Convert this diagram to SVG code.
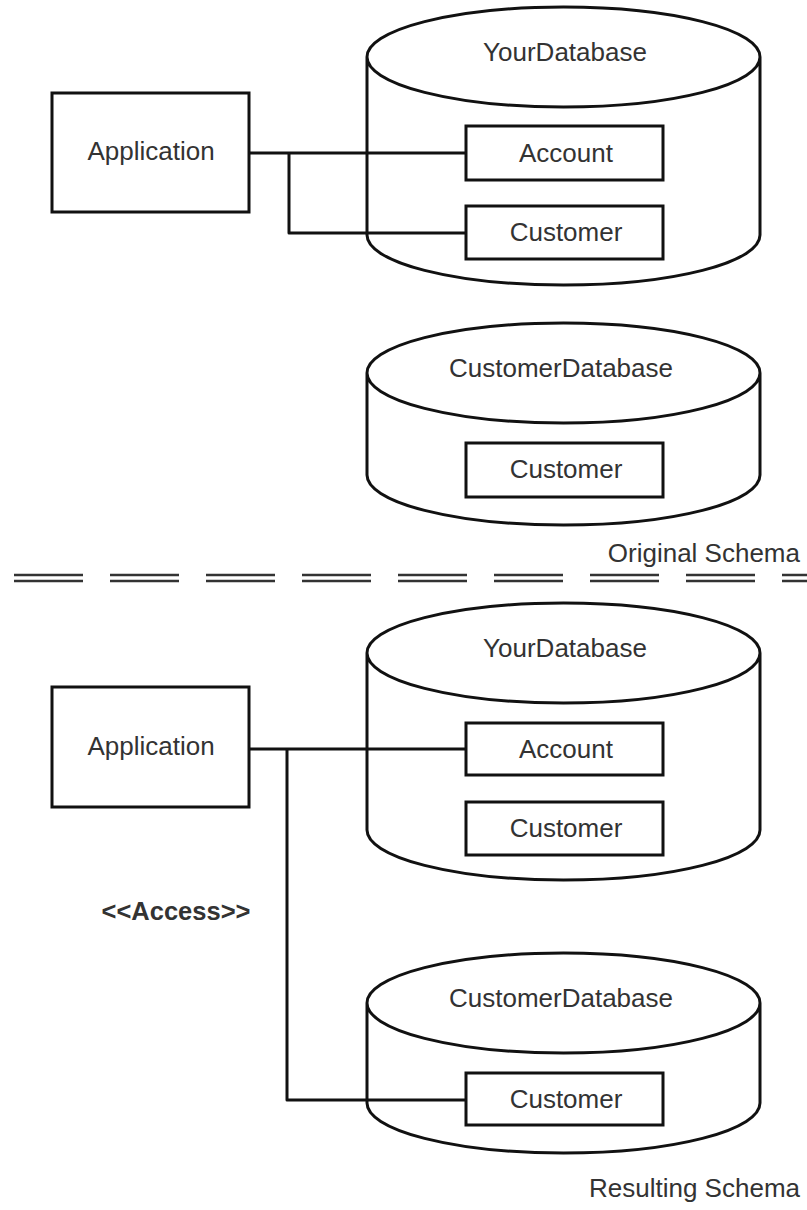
<svg xmlns="http://www.w3.org/2000/svg" width="807" height="1210" viewBox="0 0 807 1210">
<style>
.s{fill:none;stroke:#111;stroke-width:3;stroke-linejoin:round}
.b{fill:#fff;stroke:#111;stroke-width:3}
.t{font-family:"Liberation Sans",Arial,sans-serif;font-size:26px;fill:#333;text-anchor:middle}
.bold{font-weight:bold;font-size:25.5px}
.end{text-anchor:end}
.dash{stroke:#333;stroke-width:2.5;stroke-dasharray:69 27;fill:none}
</style>
<rect width="807" height="1210" fill="#fff"/>

<g id="yourdb1">
<path class="s" d="M367,57 A196.5,50 0 0 1 760,57 A196.5,50 0 0 1 367,57 Z M367,57 L367,235 A196.5,50 0 0 0 760,235 L760,57"/>
<text class="t" x="565" y="61">YourDatabase</text>
</g>
<g id="account1">
<rect class="b" x="466" y="126" width="197" height="54"/>
<text class="t" x="566" y="162">Account</text>
</g>
<g id="customer1">
<rect class="b" x="466" y="206" width="197" height="53"/>
<text class="t" x="566" y="241">Customer</text>
</g>
<g id="app1">
<rect class="b" x="52" y="93" width="197" height="119"/>
<text class="t" x="151" y="160">Application</text>
</g>

<g id="customerdb1">
<path class="s" d="M367,373 A196.5,50 0 0 1 760,373 A196.5,50 0 0 1 367,373 Z M367,373 L367,475 A196.5,50 0 0 0 760,475 L760,373"/>
<text class="t" x="561" y="377">CustomerDatabase</text>
</g>
<g id="customer2">
<rect class="b" x="466" y="443" width="197" height="54"/>
<text class="t" x="566" y="478">Customer</text>
</g>

<g id="separator">
<line class="dash" x1="14" y1="575" x2="807" y2="575"/>
<line class="dash" x1="14" y1="581" x2="807" y2="581"/>
<text class="t end" x="800" y="562">Original Schema</text>
</g>

<g id="yourdb2">
<path class="s" d="M367,653 A196.5,50 0 0 1 760,653 A196.5,50 0 0 1 367,653 Z M367,653 L367,830 A196.5,50 0 0 0 760,830 L760,653"/>
<text class="t" x="565" y="657">YourDatabase</text>
</g>
<g id="account2">
<rect class="b" x="466" y="723" width="197" height="52"/>
<text class="t" x="566" y="758">Account</text>
</g>
<g id="customer3">
<rect class="b" x="466" y="802" width="197" height="53"/>
<text class="t" x="566" y="837">Customer</text>
</g>
<g id="app2">
<rect class="b" x="52" y="687" width="197" height="120"/>
<text class="t" x="151" y="755">Application</text>
</g>

<g id="customerdb2">
<path class="s" d="M367,1003 A196.5,50 0 0 1 760,1003 A196.5,50 0 0 1 367,1003 Z M367,1003 L367,1103 A196.5,50 0 0 0 760,1103 L760,1003"/>
<text class="t" x="561" y="1007">CustomerDatabase</text>
</g>
<g id="customer4">
<rect class="b" x="466" y="1073" width="197" height="52"/>
<text class="t" x="566" y="1108">Customer</text>
</g>
<text class="t end" x="800" y="1197">Resulting Schema</text>

<g id="connectors">
<path class="s" d="M249,153 L466,153"/>
<path class="s" d="M289,153 L289,233 L466,233"/>
<path class="s" d="M249,749 L466,749"/>
<path class="s" d="M287,749 L287,1100 L466,1100"/>
<text class="t bold" x="176" y="920">&lt;&lt;Access&gt;&gt;</text>
</g>
</svg>
